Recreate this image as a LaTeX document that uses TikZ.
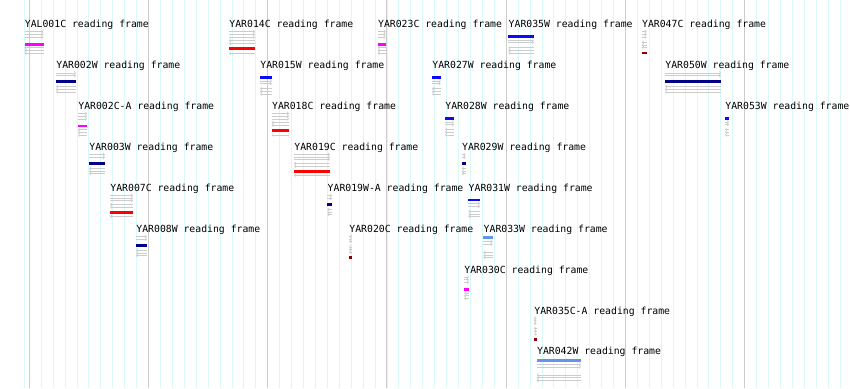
\documentclass[tikz,border=0pt]{standalone}
\usepackage{fontspec}
\newfontfamily\monof{DejaVu Sans Mono}
\usetikzlibrary{arrows.meta}
\definecolor{gridmaj}{HTML}{CCCCCC}
\definecolor{gridmin}{HTML}{D9F8F8}
\definecolor{frgray}{HTML}{CCCCCC}
\definecolor{fW1}{HTML}{6495ED}
\definecolor{fW2}{HTML}{0A0AFF}
\definecolor{fW3}{HTML}{000088}
\definecolor{fC1}{HTML}{FF00FF}
\definecolor{fC2}{HTML}{FF0000}
\definecolor{fC3}{HTML}{8E0000}
\tikzset{
  lbl/.style={anchor=base west,inner sep=0pt,outer sep=0pt,font=\monof\fontsize{9.8}{12}\selectfont,text=black},
  fline/.style={draw=frgray,line width=0.6pt,-{Straight Barb[length=1.6pt,width=3.2pt,line width=0.5pt]}},
  rline/.style={draw=frgray,line width=0.6pt,{Straight Barb[length=1.6pt,width=3.2pt,line width=0.5pt]}-},
  gmin/.style={draw=gridmin,line width=0.9pt},
  gmaj/.style={draw=gridmaj,line width=1pt}
}
% #1 node name, #2 label, #3 x left, #4 x right, #5 baseline, #6 frame (1..6)
\newcommand\rframe[6]{%
  \ifcase#6\or
    \def\barrel{5.4}\def\barcol{fW1}\def\fwdl{9.33,12}\def\revl{20,22.67,25.33}\or
    \def\barrel{8.7}\def\barcol{fW2}\def\fwdl{12.33,15}\def\revl{20,22.67,25.33}\or
    \def\barrel{13}\def\barcol{fW3}\def\fwdl{4.33,7}\def\revl{18,20.67,23.33}\or
    \def\barrel{16.5}\def\barcol{fC1}\def\fwdl{4,6.67,9.33}\def\revl{20,22.67,25.33}\or
    \def\barrel{21}\def\barcol{fC2}\def\fwdl{4,6.67,9.33}\def\revl{13,15.67,25.33}\or
    \def\barrel{25.3}\def\barcol{fC3}\def\fwdl{4,6.67,9.33}\def\revl{14.67,17.33,20}\fi
  \node[lbl] (#1) at (#3+0.4,#5) {#2 reading frame};
  \foreach \r in \fwdl {\draw[fline] (#3,#5+\r) -- (#4,#5+\r);}
  \foreach \r in \revl {\draw[rline] (#3,#5+\r) -- (#4,#5+\r);}
  \fill[\barcol] (#3,#5+\barrel-1.35) rectangle (#4,#5+\barrel+1.35);
}
\begin{document}
\begin{tikzpicture}[x=1pt,y=-1pt]
\useasboundingbox (0,0) rectangle (850,388);
\fill[white] (0,0) rectangle (850,388);
% grid
\draw[gmin] (24.7,0) -- (24.7,388);
\foreach \k in {0,...,68} {\draw[gmin] (29.3+11.923*\k,0) -- (29.3+11.923*\k,388);}
\foreach \k in {0,...,6} {\draw[gmaj] (29.3+119.23*\k,0) -- (29.3+119.23*\k,388);}
% row baselines
\def\bA{27.7}\def\bB{68.6}\def\bC{109.5}\def\bD{150.4}\def\bE{191.3}
\def\bF{232.2}\def\bG{273.1}\def\bH{314.0}\def\bI{354.9}
\rframe{yal001c}{YAL001C}{24.5}{43.5}{\bA}{4}
\rframe{yar014c}{YAR014C}{229}{255}{\bA}{5}
\rframe{yar023c}{YAR023C}{377.7}{385.7}{\bA}{4}
\rframe{yar035w}{YAR035W}{508.3}{534}{\bA}{2}
\rframe{yar047c}{YAR047C}{641.7}{646.7}{\bA}{6}
\rframe{yar002w}{YAR002W}{56}{76}{\bB}{3}
\rframe{yar015w}{YAR015W}{260}{272}{\bB}{2}
\rframe{yar027w}{YAR027W}{432}{440.7}{\bB}{2}
\rframe{yar050w}{YAR050W}{665}{721}{\bB}{3}
\rframe{yar002ca}{YAR002C-A}{78}{87}{\bC}{4}
\rframe{yar018c}{YAR018C}{271.7}{289}{\bC}{5}
\rframe{yar028w}{YAR028W}{445}{454}{\bC}{2}
\rframe{yar053w}{YAR053W}{725}{729}{\bC}{2}
\rframe{yar003w}{YAR003W}{89}{105}{\bD}{3}
\rframe{yar019c}{YAR019C}{294}{330}{\bD}{5}
\rframe{yar029w}{YAR029W}{461.7}{465.7}{\bD}{3}
\rframe{yar007c}{YAR007C}{110}{133}{\bE}{5}
\rframe{yar019wa}{YAR019W-A}{327.3}{332}{\bE}{3}
\rframe{yar031w}{YAR031W}{468.3}{480}{\bE}{2}
\rframe{yar008w}{YAR008W}{136}{147}{\bF}{3}
\rframe{yar020c}{YAR020C}{349}{352}{\bF}{6}
\rframe{yar033w}{YAR033W}{483.3}{492.7}{\bF}{1}
\rframe{yar030c}{YAR030C}{464}{469}{\bG}{4}
\rframe{yar035ca}{YAR035C-A}{534}{536.5}{\bH}{6}
\rframe{yar042w}{YAR042W}{536.7}{581}{\bI}{1}
\end{tikzpicture}
\end{document}
